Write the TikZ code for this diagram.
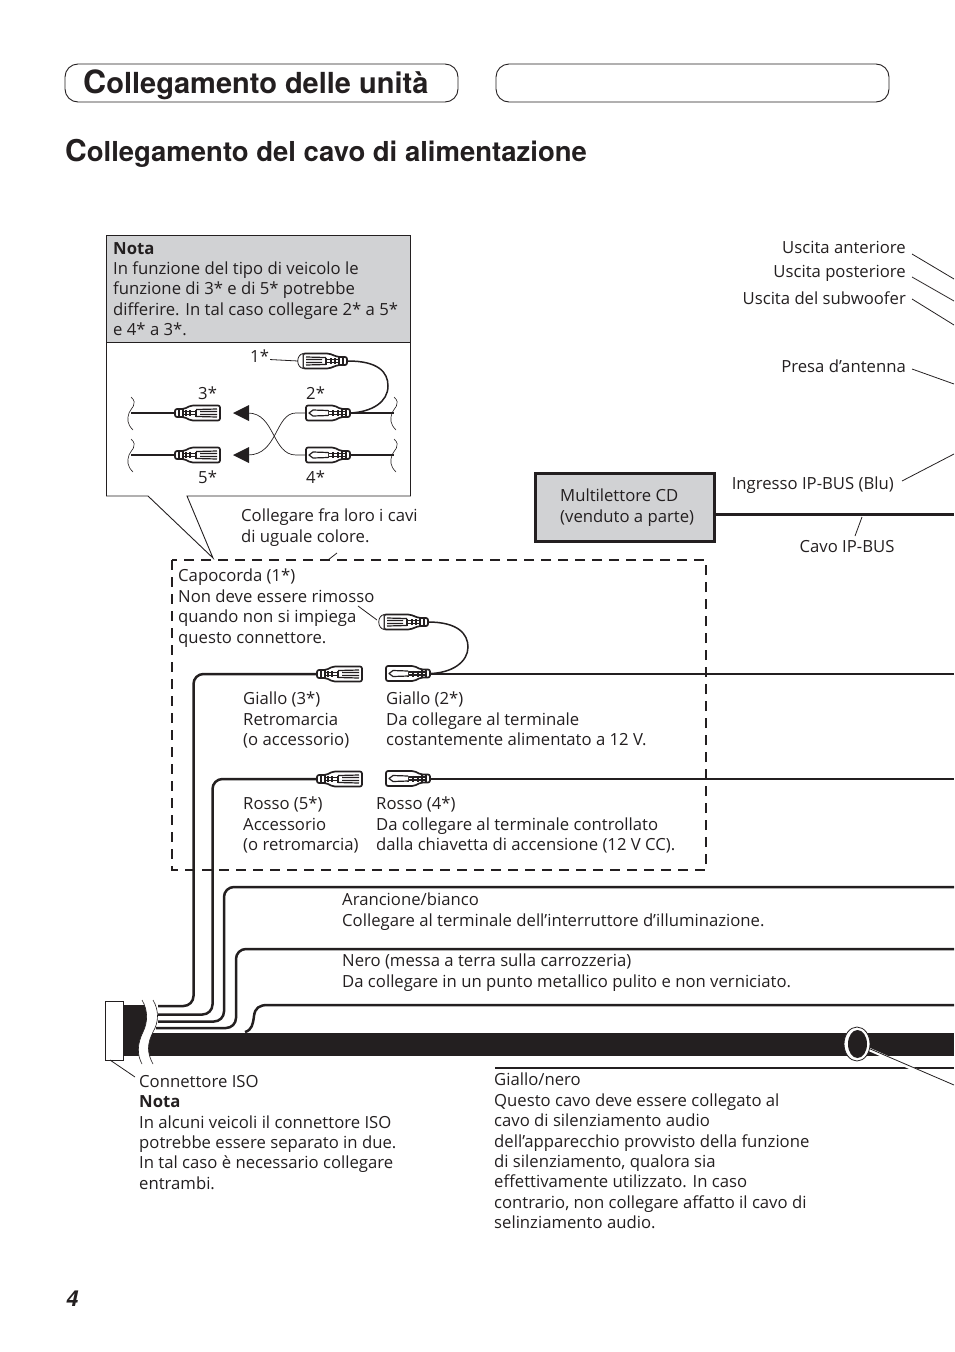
\documentclass[tikz,border=0pt]{standalone}
\usepackage{fontspec}
\setmainfont{Open Sans}
\newfontfamily\headfont{TeX Gyre Heros}
\usetikzlibrary{arrows.meta}
\definecolor{inkblack}{HTML}{231F20}
\definecolor{panelgrey}{HTML}{D1D2D4}
\tikzset{
  label text/.style={inner sep=0pt,anchor=north west,align=left,text=inkblack,
    font=\fontsize{16.7}{20.4}\selectfont},
  title frame/.style={draw=inkblack,line width=0.9pt,rounded corners=13pt},
  leader/.style={draw=inkblack,line width=0.8pt},
  fat wire/.style={draw=inkblack,line width=2.5pt,rounded corners=10pt},
  inset wire/.style={draw=inkblack,line width=2pt},
  break line/.style={draw=inkblack,line width=0.6pt},
  plug line/.style={draw=inkblack,line width=1.2pt,fill=white,line join=round},
  % socket: wire enters at the left, wide body to the right
  socket/.pic={
    \draw[plug line,line width=1.7pt,rounded corners=2pt] (0,-4) -- (9,-4) -- (16,-7.5) -- (45,-7.5) -- (45,7.5) -- (16,7.5) -- (9,4) -- (0,4) -- cycle;
    \draw[plug line] (4,-4) -- (4,4) (8,-4) -- (8,4) (11,-3) -- (11,3) (15,-3) -- (15,3) (21,-3.5) -- (21,3.5);
    \draw[plug line] (8,-1.5) -- (21,-1.5) (8,1.5) -- (21,1.5);
    \draw[plug line] (21,-3.5) -- (42,-4) (21,3.5) -- (42,4) (25,-1.5) -- (42,-1.5) (25,1.5) -- (42,1.5);
  },
  % plug: wire enters at the right, wide body to the left
  plugbody/.pic={
    \draw[plug line,line width=1.7pt,rounded corners=2pt] (0,-4) -- (-9,-4) -- (-16,-7.5) -- (-44,-7.5) -- (-44,7.5) -- (-16,7.5) -- (-9,4) -- (0,4) -- cycle;
    \draw[plug line] (-4,-4) -- (-4,4) (-8,-4) -- (-8,4) (-12,-3) -- (-12,3) (-17,-3) -- (-17,3) (-22,-3) -- (-22,3);
    \draw[plug line] (-4,-1.5) -- (-22,-1.5) (-4,1.5) -- (-22,1.5);
    \draw[plug line] (-22,-2.5) -- (-37,-3) -- (-41,0) -- (-37,3) -- (-22,2.5);
  },
  % cap fitted over a socket
  capsocket/.pic={
    \draw[plug line,line width=1.7pt,rounded corners=2pt] (0,-4) -- (-9,-4) -- (-18,-7.5) -- (-44,-7.5) -- (-44,7.5) -- (-18,7.5) -- (-9,4) -- (0,4) -- cycle;
    \draw[plug line] (-4,-4) -- (-4,4) (-8,-4) -- (-8,4) (-12,-3) -- (-12,3) (-16,-3) -- (-16,3) (-21,-3.5) -- (-21,3.5);
    \draw[plug line] (-8,-1.5) -- (-21,-1.5) (-8,1.5) -- (-21,1.5);
    \draw[plug line] (-21,-3.5) -- (-41,-4) (-21,3.5) -- (-41,4) (-25,-1.5) -- (-41,-1.5) (-25,1.5) -- (-41,1.5);
    \draw[draw=inkblack,line width=0.8pt,fill=white] (-44,-7.5) .. controls (-51,-6) and (-51,6) .. (-44,7.5) -- cycle;
  }
}
\begin{document}
\begin{tikzpicture}[x=1pt,y=-1pt]
  \useasboundingbox (0,0) rectangle (954,1352);

  % headings
  \draw[title frame] (65,64) rectangle (458,102);
  \draw[title frame] (496,64) rectangle (889,102);
  \node (maintitle) [anchor=base west,inner sep=0pt,text=inkblack,
    font=\headfont\bfseries\fontsize{29}{30}\selectfont] at (83,93) {{\fontsize{32}{32}\selectfont C}ollegamento delle unità};
  \node (sectiontitle) [anchor=base west,inner sep=0pt,text=inkblack,
    font=\headfont\bfseries\fontsize{27.5}{28}\selectfont] at (65,161) {{\fontsize{30}{30}\selectfont C}ollegamento del cavo di alimentazione};
  \node (pagenum) [anchor=base west,inner sep=0pt,text=inkblack,
    font=\headfont\bfseries\itshape\fontsize{22}{22}\selectfont] at (66,1306) {4};

  % note panel with callout
  \draw[draw=inkblack,line width=0.9pt,fill=panelgrey] (106.5,235) rectangle (410.5,342);
  \draw[draw=inkblack,line width=0.9pt] (106.5,342) -- (106.5,496) -- (148,496) -- (213,558) -- (187,496) -- (410.5,496) -- (410.5,342);
  \node (notepanel) [label text] at (113,242) {\textbf{Nota}\\In funzione del tipo di veicolo le\\funzione di 3* e di 5* potrebbe\\differire. In tal caso collegare 2* a 5*\\e 4* a 3*.};

  % inset connectors
  \coordinate (breakLa) at (131,413);
  \coordinate (breakLb) at (131,455);
  \coordinate (breakRa) at (394,413);
  \coordinate (breakRb) at (394,455);
  \draw[inset wire,line width=2.6pt] (breakLa) -- (175,413);
  \draw[inset wire] (breakLb) -- (175,455);
  \draw[inset wire,line width=2.6pt] (350,413) -- (breakRa);
  \draw[inset wire] (350,455) -- (breakRb);
  \draw[inset wire,line width=1.5pt] (348,361) .. controls (378,361) and (388,372) .. (388,386) .. controls (388,402) and (372,412) .. (350,413);
  \pic at (175,413) {socket};
  \pic at (175,455) {socket};
  \pic at (350,413) {plugbody};
  \pic at (350,455) {plugbody};
  \pic at (347,361) {capsocket};
  \foreach \bx/\by in {131/413,131/455,394/413,394/455}
    \draw[break line] (\bx,\by-16) .. controls (\bx+8,\by-9) and (\bx-1,\by-4) .. (\bx-2,\by) .. controls (\bx-4,\by+6) and (\bx-4,\by+11) .. (\bx+2,\by+17);
  \node (inseta) [label text] at (250,350) {1*};
  \node (insetc) [label text] at (198,387) {3*};
  \node (insetb) [label text] at (306,387) {2*};
  \node (insete) [label text] at (198,471) {5*};
  \node (insetd) [label text] at (306,471) {4*};
  \draw[leader] (inseta.east) ++(1,3) -- (298,361);
  \draw[draw=inkblack,line width=0.7pt] (305,413) -- (296,413) .. controls (275,413) and (278,455) .. (248,455);
  \draw[draw=inkblack,line width=0.7pt] (305,455) -- (296,455) .. controls (272,455) and (275,413) .. (248,413);
  \fill[inkblack] (233,413) -- (249,405) -- (249,421) -- cycle;
  \fill[inkblack] (233,455) -- (249,447) -- (249,463) -- cycle;

  \node (sametext) [label text] at (241,509) {Collegare fra loro i cavi\\di uguale colore.};
  \draw[leader] (337,553) -- (328,560);

  % dashed frame
  \draw[draw=inkblack,line width=1.1pt,dash pattern=on 10pt off 7pt] (172,560) rectangle (706,870);

  \node (captext) [label text] at (178,569) {Capocorda (1*)\\Non deve essere rimosso\\quando non si impiega\\questo connettore.};
  \draw[leader] (358,606) -- (377,620);

  % wires from the ISO connector
  \coordinate (cableL) at (123,1044);
  \coordinate (cableR) at (954,1044.5);
  \fill[inkblack] (123,1005) rectangle (150,1056);
  \draw[draw=inkblack,line width=23pt] (145,1044.5) -- (cableR);
  \fill[white] (142,1000) .. controls (148,1010) and (148,1022) .. (143,1032) .. controls (137,1044) and (137,1055) .. (142,1064) -- (153,1064) .. controls (147,1053) and (147,1044) .. (153,1032) .. controls (159,1022) and (159,1010) .. (153,1000) -- cycle;
  \draw[break line] (142,1000) .. controls (148,1010) and (148,1022) .. (143,1032) .. controls (137,1044) and (137,1055) .. (142,1064);
  \draw[break line] (153,1000) .. controls (159,1010) and (159,1022) .. (153,1032) .. controls (147,1044) and (147,1053) .. (153,1064);
  \draw[fat wire] (158,1006) -- (193.5,1006) -- (193.5,674) -- (317,674);
  \draw[fat wire] (158,1014.5) -- (212.5,1014.5) -- (212.5,779) -- (317,779);
  \draw[fat wire] (158,1021.5) -- (224,1021.5) -- (224,887) -- (954,887);
  \draw[fat wire] (156,1028) -- (236,1028) -- (236,949) -- (954,949);
  \draw[fat wire,rounded corners=0pt] (245,1032) .. controls (252,1030) and (253,1024) .. (254,1016) .. controls (255,1008) and (259,1005) .. (268,1005) -- (954,1005);
  \draw[draw=inkblack,line width=0.9pt,fill=white] (105,1001) rectangle (123,1060);
  \draw[leader] (110,1060) -- (135,1077);

  % terminal wires
  \draw[fat wire,line width=2pt] (430,673.5) -- (954,673.5);
  \draw[fat wire,line width=2pt] (430,778.5) -- (954,778.5);
  \draw[inset wire,line width=1.5pt] (428,622) .. controls (458,622) and (468,634) .. (468,647) .. controls (468,662) and (452,673) .. (430,673.5);
  \pic at (317,674) {socket};
  \pic at (317,779) {socket};
  \pic at (430,673.5) {plugbody};
  \pic at (430,778.5) {plugbody};
  \pic at (428,622) {capsocket};

  \node (yellowa) [label text] at (243,692) {Giallo (3*)\\Retromarcia\\(o accessorio)};
  \node (yellowb) [label text] at (386,692) {Giallo (2*)\\Da collegare al terminale\\costantemente alimentato a 12 V.};
  \node (reda) [label text] at (243,797) {Rosso (5*)\\Accessorio\\(o retromarcia)};
  \node (redb) [label text] at (376,797) {Rosso (4*)\\Da collegare al terminale controllato\\dalla chiavetta di accensione (12 V CC).};
  \node (orangetext) [label text] at (342,893) {Arancione/bianco\\Collegare al terminale dell’interruttore d’illuminazione.};
  \node (blacktext) [label text] at (342,954) {Nero (messa a terra sulla carrozzeria)\\Da collegare in un punto metallico pulito e non verniciato.};
  \node (isotext) [label text] at (139,1075) {Connettore ISO\\\textbf{Nota}\\In alcuni veicoli il connettore ISO\\potrebbe essere separato in due.\\In tal caso è necessario collegare\\entrambi.};
  \node (mutetext) [label text] at (494,1073) {Giallo/nero\\Questo cavo deve essere collegato al\\cavo di silenziamento audio\\dell’apparecchio provvisto della funzione\\di silenziamento, qualora sia\\effettivamente utilizzato. In caso\\contrario, non collegare affatto il cavo di\\selinziamento audio.};

  % mute wire with ring
  \draw[draw=inkblack,line width=1.4pt] (495,1068) -- (954,1068);
  \draw[draw=white,line width=3.4pt] (866,1048) -- (954,1087);
  \draw[leader] (868,1048) -- (954,1085);
  \draw[draw=inkblack,line width=0.8pt,fill=white] (857,1044) ellipse [x radius=13,y radius=17];
  \fill[inkblack] (857.5,1044) ellipse [x radius=9.5,y radius=14];

  % CD changer
  \node (cdbox) [draw=inkblack,line width=3pt,fill=panelgrey,minimum width=179pt,minimum height=68pt,anchor=north west,inner sep=0pt,outer sep=0pt] at (535.5,473.5) {};
  \node (cdtext) [label text] at (560,489) {Multilettore CD\\(venduto a parte)};
  \coordinate (busend) at (954,514);
  \draw[draw=inkblack,line width=3pt] (cdbox.east |- busend) -- (busend);
  \node (buslabel) [label text,anchor=north] at (847,540) {Cavo IP-BUS};
  \draw[leader] (855,536) -- (862,517);

  % output labels
  \node (frontout) [label text,anchor=north east] at (906,241) {Uscita anteriore};
  \node (rearout) [label text,anchor=north east] at (906,265) {Uscita posteriore};
  \node (subout) [label text,anchor=north east] at (906,292) {Uscita del subwoofer};
  \node (antenna) [label text,anchor=north east] at (906,360) {Presa d’antenna};
  \node (busin) [label text,anchor=north east] at (894,477) {Ingresso IP-BUS (Blu)};
  \coordinate (frontend) at (954,279);
  \coordinate (rearend) at (954,301);
  \coordinate (subend) at (954,325);
  \coordinate (antend) at (954,384);
  \coordinate (busend2) at (954,454);
  \draw[leader] (912,254) -- (frontend);
  \draw[leader] (912,277) -- (rearend);
  \draw[leader] (912,299) -- (subend);
  \draw[leader] (912,369) -- (antend);
  \draw[leader] (902,481) -- (busend2);
\end{tikzpicture}
\end{document}
